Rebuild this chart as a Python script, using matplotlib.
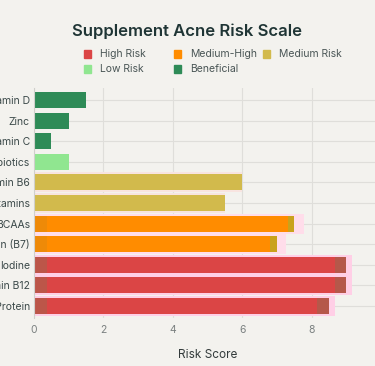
import matplotlib.pyplot as plt
from matplotlib.patches import Rectangle

plt.rcParams['font.family'] = ['Inter', 'DejaVu Sans']

# Data (top to bottom)
supplements = ['Vitamin D', 'Zinc', 'Vitamin C', 'Probiotics', 'Vitamin B6',
               'Multivitamins', 'BCAAs', 'Biotin (B7)', 'Iodine', 'Vitamin B12',
               'Whey Protein']
risk_scores = [1.5, 1.0, 0.5, 1.0, 6.0, 5.5, 7.5, 7.0, 9.0, 9.0, 8.5]
risk_levels = ['Beneficial', 'Beneficial', 'Beneficial', 'Low Risk', 'Medium Risk',
               'Medium Risk', 'Medium-High', 'Medium-High', 'High Risk', 'High Risk',
               'High Risk']

legend_order = ['High Risk', 'Medium-High', 'Medium Risk', 'Low Risk', 'Beneficial']
colors = {'High Risk': '#DB4545', 'Medium-High': '#FF8C00', 'Medium Risk': '#D2BA4C',
          'Low Risk': '#90E690', 'Beneficial': '#2E8B57'}
# darker shading at the ends of the riskier bars
dark_start = {'High Risk': '#BC5649', 'Medium-High': '#EE8A08'}
dark_end = {'High Risk': '#B5584A', 'Medium-High': '#C9A21C'}
end_width = {'High Risk': 0.33, 'Medium-High': 0.19}
glow = {'High Risk': ('#FFCFE6', 0.16), 'Medium-High': ('#FFDDEA', 0.27),
        'Medium Risk': ('#F8E4E0', 0.0)}

bg = '#F3F2EE'
fig = plt.figure(figsize=(3.75, 3.66), dpi=100, facecolor=bg)
ax = fig.add_axes([34 / 375, 1 - 318 / 366, 347 / 375, 230 / 366])
ax.set_facecolor(bg)

ypos = list(range(len(supplements)))
for y, v, lvl in zip(ypos, risk_scores, risk_levels):
    if lvl in glow:
        gc, pad = glow[lvl]
        ax.barh(y, v + pad + 0.05, left=-0.05, height=0.97, color=gc, zorder=1)
    if lvl in dark_start:
        ax.barh(y, v, height=0.78, color=dark_end[lvl], zorder=2)
        ax.barh(y, 0.37, height=0.78, color=dark_start[lvl], zorder=3)
        ax.barh(y, v - end_width[lvl] - 0.37, left=0.37, height=0.78,
                color=colors[lvl], zorder=3)
    else:
        ax.barh(y, v, height=0.78, color=colors[lvl], zorder=2)

ax.set_xlim(0, 10)
ax.set_ylim(len(supplements) - 0.42, -0.58)
ax.set_yticks(ypos)
ax.set_yticklabels(supplements, fontsize=7.5, color='#3C4A4A')
ax.set_xticks([0, 2, 4, 6, 8])
ax.tick_params(axis='x', labelsize=7.5, labelcolor='#7A8080', length=0, pad=5)
ax.tick_params(axis='y', length=0, pad=3)
ax.grid(True, color='#DFDEDA', linewidth=0.8, zorder=0)
ax.set_axisbelow(True)
for s in ['top', 'right', 'bottom']:
    ax.spines[s].set_visible(False)
ax.spines['left'].set_color('#D0D0CC')
ax.spines['left'].set_zorder(5)
ax.set_xlabel('Risk Score', fontsize=8.5, color='#333B3B', labelpad=10)

fig.text(187 / 375, 1 - 31 / 366, 'Supplement Acne Risk Scale', ha='center', va='center',
         fontsize=12, fontweight='semibold', color='#1F3535')

# legend laid out like the reference (3 columns, 2 rows)
col_x = [87, 177, 266]
row_y = [54, 69]
for i, lvl in enumerate(legend_order):
    cx = col_x[i % 3]
    cy = row_y[i // 3]
    fig.add_artist(Rectangle(((cx - 3.5) / 375, 1 - (cy + 3.5) / 366), 7 / 375, 7 / 366,
                             transform=fig.transFigure, color=colors[lvl]))
    fig.text((cx + 13) / 375, 1 - cy / 366, lvl, ha='left', va='center',
             fontsize=7.5, color='#4A5656')

fig.savefig('out.png', dpi=100, facecolor=bg)
